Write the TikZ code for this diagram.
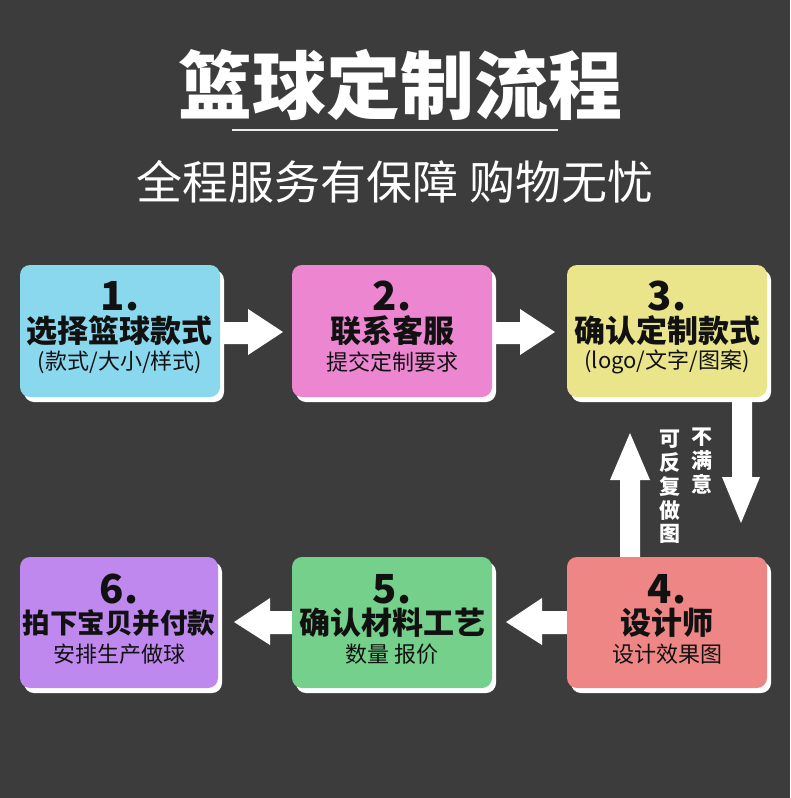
\documentclass[tikz,border=0pt]{standalone}
\usepackage{fontspec}
\setmainfont{Noto Sans CJK SC}
\usetikzlibrary{shadows}
\definecolor{bg}{RGB}{60,60,60}
\definecolor{cA}{RGB}{138,216,238}
\definecolor{cB}{RGB}{236,134,208}
\definecolor{cC}{RGB}{234,228,138}
\definecolor{cD}{RGB}{238,134,134}
\definecolor{cE}{RGB}{116,208,138}
\definecolor{cF}{RGB}{190,136,238}
\definecolor{ink}{RGB}{17,17,17}
\newcommand{\fs}[1]{\fontsize{#1}{#1}\selectfont}
\tikzset{
  flowbox/.style={rounded corners=10pt, minimum width=200pt, minimum height=132pt, inner sep=0pt,
    drop shadow={shadow xshift=4pt, shadow yshift=-5pt, fill=white, opacity=1}},
  numtxt/.style={text=ink, inner sep=0pt, font=\bfseries\fs{40}},
  maintxt/.style={text=ink, inner sep=0pt, font=\bfseries\fs{31}},
  subtxt/.style={text=ink, inner sep=0pt, font=\fs{22}},
  blockarrow/.style={fill=white, draw=none},
  vtext/.style={text=white, inner sep=0pt, align=center, font=\bfseries\fontsize{21}{23.8}\selectfont}
}
\begin{document}
\begin{tikzpicture}[x=1pt,y=-1pt]
\useasboundingbox (0,0) rectangle (790,798);
\fill[bg] (0,0) rectangle (790,798);
% title
\node[text=white, font=\bfseries\fs{74}, inner sep=0pt] (title) at (400,85) {篮球定制流程};
\coordinate (ulL) at (232,130);
\coordinate (ulR) at (558,130);
\draw[white!92!black, line width=2.5pt] (ulL) -- (ulR);
\node[text=white, font=\fs{46}, inner sep=0pt] (subtitle) at (395,182) {全程服务有保障 购物无忧};
% arrows
\fill[blockarrow] (210,322) -- (248,322) -- (248,309) -- (283,332) -- (248,355) -- (248,344) -- (210,344) -- cycle;
\fill[blockarrow] (485,322) -- (520,322) -- (520,309) -- (555,332) -- (520,355) -- (520,344) -- (485,344) -- cycle;
\fill[blockarrow] (575,611) -- (542,611) -- (542,598) -- (506,622) -- (542,645) -- (542,634) -- (575,634) -- cycle;
\fill[blockarrow] (300,611) -- (270,611) -- (270,598) -- (234,622) -- (270,645) -- (270,634) -- (300,634) -- cycle;
\fill[blockarrow] (732,390) -- (752,390) -- (752,477) -- (760,477) -- (741,523) -- (722,477) -- (732,477) -- cycle;
\fill[blockarrow] (620,565) -- (640,565) -- (640,480) -- (650,480) -- (630,433) -- (610,480) -- (620,480) -- cycle;
% boxes
\node[flowbox, fill=cA] (b1) at (120,331) {};
\node[flowbox, fill=cB] (b2) at (392,331) {};
\node[flowbox, fill=cC] (b3) at (667,331) {};
\node[flowbox, fill=cD, minimum height=131pt] (b4) at (667,622.5) {};
\node[flowbox, fill=cE, minimum height=131pt] (b5) at (392,622.5) {};
\node[flowbox, fill=cF, minimum height=131pt, minimum width=198pt] (b6) at (119,622.5) {};
% box texts
\node[numtxt] (n1) at (120,296) {1.};
\node[maintxt] (m1) at (120,331) {选择篮球款式};
\node[subtxt] (s1) at (120,362) {(款式/大小/样式)};
\node[numtxt] (n2) at (392,296) {2.};
\node[maintxt] (m2) at (392,331) {联系客服};
\node[subtxt] (s2) at (392,362) {提交定制要求};
\node[numtxt] (n3) at (667,296) {3.};
\node[maintxt] (m3) at (667,331) {确认定制款式};
\node[subtxt] (s3) at (667,362) {(logo/文字/图案)};
\node[numtxt] (n4) at (667,589) {4.};
\node[maintxt] (m4) at (667,623) {设计师};
\node[subtxt] (s4) at (667,654) {设计效果图};
\node[numtxt] (n5) at (392,589) {5.};
\node[maintxt] (m5) at (392,623) {确认材料工艺};
\node[subtxt] (s5) at (392,654) {数量 报价};
\node[numtxt] (n6) at (119,589) {6.};
\node[maintxt, font=\bfseries\fs{27.5}] (m6) at (119,623) {拍下宝贝并付款};
\node[subtxt] (s6) at (119,654) {安排生产做球};
% side labels
\node[vtext] (v1) at (670,487) {可\\反\\复\\做\\图};
\node[vtext] (v2) at (702,461) {不\\满\\意};
\end{tikzpicture}
\end{document}
